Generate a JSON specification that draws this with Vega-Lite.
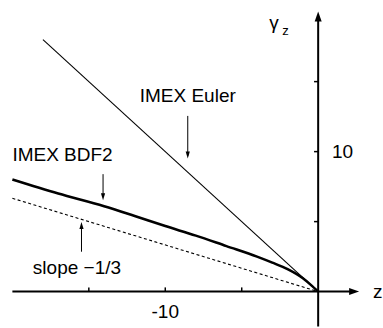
{
  "$schema": "https://vega.github.io/schema/vega-lite/v6.json",
  "width": 383,
  "height": 328,
  "autosize": {"type": "fit", "contains": "padding"},
  "padding": 0,
  "background": "white",
  "config": {"view": {"stroke": null}, "text": {"font": "Liberation Sans", "color": "black"}},
  "datasets": {
    "curves": [
      {"method": "IMEX Euler", "z": -18, "g": 18},
      {"method": "IMEX Euler", "z": 0, "g": 0},
      {"method": "IMEX BDF2", "z": -20, "g": 8.0},
      {"method": "IMEX BDF2", "z": -17, "g": 7.0},
      {"method": "IMEX BDF2", "z": -14, "g": 6.1},
      {"method": "IMEX BDF2", "z": -12, "g": 5.4},
      {"method": "IMEX BDF2", "z": -10, "g": 4.68},
      {"method": "IMEX BDF2", "z": -8, "g": 4.0},
      {"method": "IMEX BDF2", "z": -6, "g": 3.25},
      {"method": "IMEX BDF2", "z": -4, "g": 2.5},
      {"method": "IMEX BDF2", "z": -3, "g": 2.07},
      {"method": "IMEX BDF2", "z": -2, "g": 1.6},
      {"method": "IMEX BDF2", "z": -1, "g": 0.95},
      {"method": "IMEX BDF2", "z": -0.5, "g": 0.5},
      {"method": "IMEX BDF2", "z": 0, "g": 0},
      {"method": "slope", "z": -20, "g": 6.667},
      {"method": "slope", "z": 0, "g": 0}
    ],
    "axes": [
      {"z": -20, "g": 0, "z2": 2.2, "g2": 0},
      {"z": 0, "g": -2.5, "z2": 0, "g2": 19.5}
    ],
    "ticks": [
      {"z": -15, "g": 0, "z2": -15, "g2": 0.3},
      {"z": -10, "g": 0, "z2": -10, "g2": 0.3},
      {"z": -5, "g": 0, "z2": -5, "g2": 0.3},
      {"z": -0.27, "g": 5, "z2": 0, "g2": 5},
      {"z": -0.27, "g": 10, "z2": 0, "g2": 10},
      {"z": -0.27, "g": 15, "z2": 0, "g2": 15}
    ],
    "pointers": [
      {"label": "IMEX Euler", "z": -8.53, "g": 12.55, "z2": -8.53, "g2": 9.7},
      {"label": "IMEX BDF2", "z": -14.07, "g": 8.39, "z2": -14.07, "g2": 6.75},
      {"label": "slope", "z": -15.48, "g": 2.85, "z2": -15.48, "g2": 4.75}
    ]
  },
  "encoding": {
    "x": {"field": "z", "type": "quantitative", "scale": {"domain": [-20.81, 4.175], "nice": false, "zero": false}, "axis": null},
    "y": {"field": "g", "type": "quantitative", "scale": {"domain": [-2.385, 20.83], "nice": false, "zero": false}, "axis": null}
  },
  "layer": [
    {
      "data": {"name": "curves"},
      "transform": [{"filter": "datum.method === 'IMEX Euler'"}],
      "mark": {"type": "line", "color": "black", "strokeWidth": 1.1},
      "encoding": {}
    },
    {
      "data": {"name": "curves"},
      "transform": [{"filter": "datum.method === 'IMEX BDF2'"}],
      "mark": {"type": "line", "color": "black", "strokeWidth": 2.6, "interpolate": "monotone"},
      "encoding": {}
    },
    {
      "data": {"name": "curves"},
      "transform": [{"filter": "datum.method === 'slope'"}],
      "mark": {"type": "line", "color": "black", "strokeWidth": 1.1, "strokeDash": [3, 2.5]},
      "encoding": {}
    },
    {
      "data": {"name": "axes"},
      "mark": {"type": "rule", "color": "black", "strokeWidth": 2},
      "encoding": {"x2": {"field": "z2"}, "y2": {"field": "g2"}}
    },
    {
      "data": {"name": "ticks"},
      "mark": {"type": "rule", "color": "black", "strokeWidth": 1.5},
      "encoding": {"x2": {"field": "z2"}, "y2": {"field": "g2"}}
    },
    {
      "data": {"name": "pointers"},
      "mark": {"type": "rule", "color": "black", "strokeWidth": 1},
      "encoding": {"x2": {"field": "z2"}, "y2": {"field": "g2"}}
    },
    {
      "data": {"values": [{"z": 2.35, "g": 0}]},
      "mark": {"type": "point", "shape": "M-1,-0.7L1,0L-1,0.7Z", "size": 100, "filled": true, "color": "black", "opacity": 1}
    },
    {
      "data": {"values": [{"z": 0, "g": 19.65}]},
      "mark": {"type": "point", "shape": "M-0.7,1L0,-1L0.7,1Z", "size": 100, "filled": true, "color": "black", "opacity": 1}
    },
    {
      "data": {"values": [{"z": -8.53, "g": 9.75}, {"z": -14.07, "g": 6.78}]},
      "mark": {"type": "point", "shape": "M-0.6,-1L0.6,-1L0,1Z", "size": 49, "filled": true, "color": "black", "opacity": 1}
    },
    {
      "data": {"values": [{"z": -15.48, "g": 4.73}]},
      "mark": {"type": "point", "shape": "M-0.6,1L0.6,1L0,-1Z", "size": 49, "filled": true, "color": "black", "opacity": 1}
    },
    {
      "data": {"values": [{"text": "IMEX Euler", "z": -8.53, "g": 13.54}]},
      "mark": {"type": "text", "fontSize": 19, "align": "center", "baseline": "alphabetic"},
      "encoding": {"text": {"field": "text"}}
    },
    {
      "data": {"values": [{"text": "IMEX BDF2", "z": -20, "g": 9.36}, {"text": "slope \u22121/3", "z": -18.66, "g": 1.25}]},
      "mark": {"type": "text", "fontSize": 19, "align": "left", "baseline": "alphabetic"},
      "encoding": {"text": {"field": "text"}}
    },
    {
      "data": {"values": [{"text": "-10", "z": -10, "g": -1.9}]},
      "mark": {"type": "text", "fontSize": 19, "align": "center", "baseline": "alphabetic"},
      "encoding": {"text": {"field": "text"}}
    },
    {
      "data": {"values": [{"text": "10", "z": 0.9, "g": 10}, {"text": "z", "z": 3.59, "g": 0}]},
      "mark": {"type": "text", "fontSize": 19, "align": "left", "baseline": "middle"},
      "encoding": {"text": {"field": "text"}}
    },
    {
      "data": {"values": [{"text": "\u03b3", "z": -3.2, "g": 18.75}]},
      "mark": {"type": "text", "fontSize": 19, "align": "left", "baseline": "alphabetic"},
      "encoding": {"text": {"field": "text"}}
    },
    {
      "data": {"values": [{"text": "z", "z": -2.35, "g": 18.35}]},
      "mark": {"type": "text", "fontSize": 13, "align": "left", "baseline": "alphabetic"},
      "encoding": {"text": {"field": "text"}}
    }
  ]
}
